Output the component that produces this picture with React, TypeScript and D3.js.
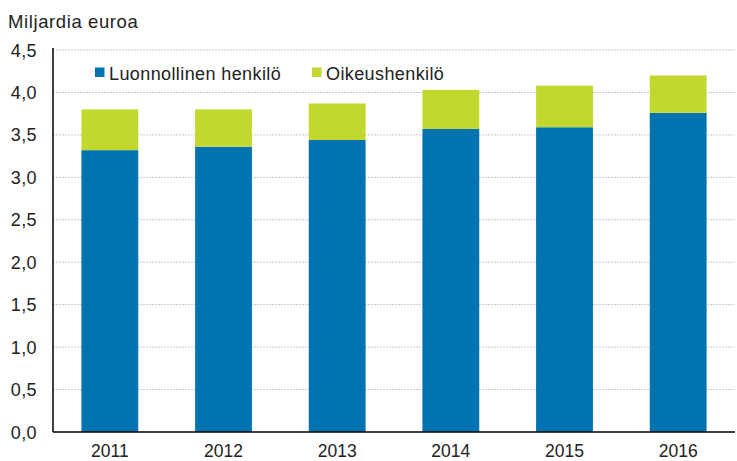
import React from "react";
import * as d3 from "d3";

const years = ["2011", "2012", "2013", "2014", "2015", "2016"];
const luonnollinen = [3.32, 3.36, 3.44, 3.57, 3.59, 3.76];
const oikeus = [0.48, 0.44, 0.43, 0.46, 0.49, 0.44];
const yTicks = [0, 0.5, 1, 1.5, 2, 2.5, 3, 3.5, 4, 4.5];
const seriesNames = ["Luonnollinen henkilö", "Oikeushenkilö"];
const colors = ["#0073b0", "#c3d82e"];

export default function App() {
  const W = 737, H = 461;
  const left = 53, right = 735, top = 50, bottom = 432;
  const x = d3.scaleBand<string>().domain(years).range([left, right]).paddingInner(0.5).paddingOuter(0.25);
  const y = d3.scaleLinear().domain([0, 4.5]).range([bottom, top]);
  const stackData = years.map((yr, i) => ({ year: yr, a: luonnollinen[i], b: oikeus[i] }));
  const stacked = d3.stack<any>().keys(["a", "b"])(stackData);
  const font = "Liberation Sans, Arial, sans-serif";
  const fmt = (v: number) => v.toFixed(1).replace(".", ",");
  return (
    <svg width={W} height={H} style={{ position: "absolute", left: 0, top: 0 }} fontFamily={font}>
      <rect width={W} height={H} fill="#fff" />
      <text x={8} y={28} fontSize={18.5} letterSpacing={0.6} fill="#222">Miljardia euroa</text>
      {yTicks.map((t) => (
        <g key={t}>
          {t > 0 && (
            <line x1={left} x2={right} y1={y(t)} y2={y(t)} stroke="#c8c8c8" strokeDasharray="2,1" strokeWidth={1} />
          )}
          <text x={37} y={y(t) + 6.5} fontSize={18} letterSpacing={0.4} textAnchor="end" fill="#222">{fmt(t)}</text>
        </g>
      ))}
      {stacked.map((s, si) =>
        s.map((d, i) => (
          <rect key={si + "-" + i} x={x(years[i])} width={x.bandwidth()} y={y(d[1])} height={y(d[0]) - y(d[1])} fill={colors[si]} />
        ))
      )}
      <line x1={left} x2={left} y1={top - 2} y2={bottom} stroke="#000" strokeWidth={1.5} />
      <line x1={left} x2={right} y1={bottom} y2={bottom} stroke="#000" strokeWidth={1.5} />
      {years.map((yr) => (
        <text key={yr} x={(x(yr) as number) + x.bandwidth() / 2} y={457} fontSize={17.5} textAnchor="middle" fill="#222">{yr}</text>
      ))}
      <rect x={95} y={67.5} width={9.5} height={9.5} fill={colors[0]} />
      <text x={109} y={79.5} fontSize={18} letterSpacing={0.4} fill="#222">{seriesNames[0]}</text>
      <rect x={312} y={67.5} width={9.5} height={9.5} fill={colors[1]} />
      <text x={326} y={79.5} fontSize={18} letterSpacing={0.4} fill="#222">{seriesNames[1]}</text>
    </svg>
  );
}
